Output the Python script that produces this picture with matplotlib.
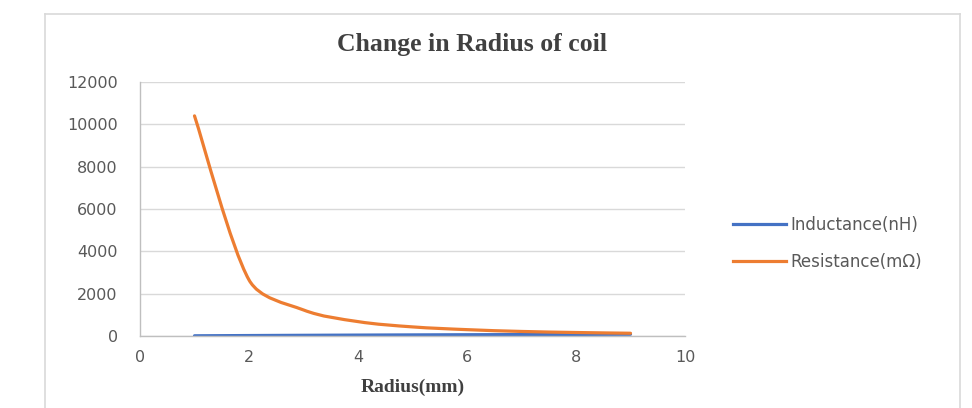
import numpy as np
import matplotlib
matplotlib.use("Agg")
import matplotlib.pyplot as plt
from matplotlib.path import Path
from matplotlib.patches import PathPatch
from matplotlib.lines import Line2D

# Data
radius_mm = [1, 2, 3, 4, 5, 6, 7, 8, 9]
inductance_nH = [10, 22, 33, 43, 52, 60, 68, 75, 82]
resistance_mohm = [10400, 2650, 1230, 680, 430, 300, 215, 165, 130]

x_ticks = [0, 2, 4, 6, 8, 10]
y_ticks = [0, 2000, 4000, 6000, 8000, 10000, 12000]

BLUE = "#4472C4"
ORANGE = "#ED7D31"
TEXT = "#595959"
GRID = "#D9D9D9"


def smooth_path(ax, xs, ys, arm_limit=0.35):
    """Smoothed line through the points as cubic Bezier segments.

    Tangents follow the Catmull-Rom rule, computed in screen space, with each
    control arm capped to a fraction of its segment length so that short
    segments next to steep ones do not overshoot.
    """
    to_px = ax.transData
    to_data = ax.transData.inverted()
    pts = to_px.transform(np.column_stack([xs, ys]).astype(float))
    n = len(pts)
    verts = [pts[0]]
    codes = [Path.MOVETO]
    for i in range(n - 1):
        p0 = pts[i - 1] if i > 0 else pts[i]
        p1 = pts[i]
        p2 = pts[i + 1]
        p3 = pts[i + 2] if i + 2 < n else pts[i + 1]
        seg = np.hypot(*(p2 - p1))
        a1 = (p2 - p0) / 6.0
        a2 = (p3 - p1) / 6.0
        for a in (a1, a2):
            ln = np.hypot(*a)
            if ln > arm_limit * seg:
                a *= arm_limit * seg / ln
        verts += [p1 + a1, p2 - a2, p2]
        codes += [Path.CURVE4] * 3
    return Path(to_data.transform(np.array(verts)), codes)


W, H = 972, 408
fig = plt.figure(figsize=(W / 100, H / 100), dpi=100)
fig.patch.set_facecolor("white")

# Chart frame
frame_kw = dict(color="#D9D9D9", lw=1.2, transform=fig.transFigure)
fig.add_artist(Line2D([45 / W, 45 / W], [0, 1 - 14 / H], **frame_kw))
fig.add_artist(Line2D([960 / W, 960 / W], [0, 1 - 14 / H], **frame_kw))
fig.add_artist(Line2D([45 / W, 960 / W], [1 - 14 / H, 1 - 14 / H], **frame_kw))

ax = fig.add_axes([140 / W, 1 - 336 / H, (685 - 140) / W, (336 - 82) / H])
ax.set_xlim(0, 10)
ax.set_ylim(0, 12000)
ax.set_xticks(x_ticks)
ax.set_yticks(y_ticks)
ax.grid(axis="y", color=GRID, lw=1)
ax.set_axisbelow(True)
for side in ("top", "right"):
    ax.spines[side].set_visible(False)
for side in ("left", "bottom"):
    ax.spines[side].set_color("#BFBFBF")
    ax.spines[side].set_linewidth(1)
ax.tick_params(length=0, labelsize=11.5, labelcolor=TEXT)
ax.tick_params(axis="x", pad=10)
ax.tick_params(axis="y", pad=16)

for ys, color in ((inductance_nH, BLUE), (resistance_mohm, ORANGE)):
    ax.add_patch(PathPatch(smooth_path(ax, radius_mm, ys), facecolor="none",
                           edgecolor=color, lw=2.3, capstyle="round",
                           joinstyle="round"))

handles = [Line2D([], [], color=BLUE, lw=2.3), Line2D([], [], color=ORANGE, lw=2.3)]
fig.legend(handles, ["Inductance(nH)", "Resistance(mΩ)"],
           loc="center left", bbox_to_anchor=(733 / W, 1 - 243.5 / H),
           frameon=False, fontsize=12, labelcolor=TEXT, handlelength=3.15,
           handletextpad=0.3, labelspacing=1.15, borderpad=0, borderaxespad=0)

fig.text(472 / W, 1 - 44 / H, "Change in Radius of coil", ha="center", va="center",
         fontfamily="Liberation Serif", fontweight="bold", fontsize=18.5,
         color="#404040")

ax.set_xlabel("Radius(mm)", fontfamily="Liberation Serif", fontweight="bold",
              fontsize=14, color="#404040")
ax.xaxis.set_label_coords(0.5, (336 - 387) / (336 - 82))
ax.xaxis.label.set_va("center")

fig.savefig("out.png", dpi=100, facecolor="white")
